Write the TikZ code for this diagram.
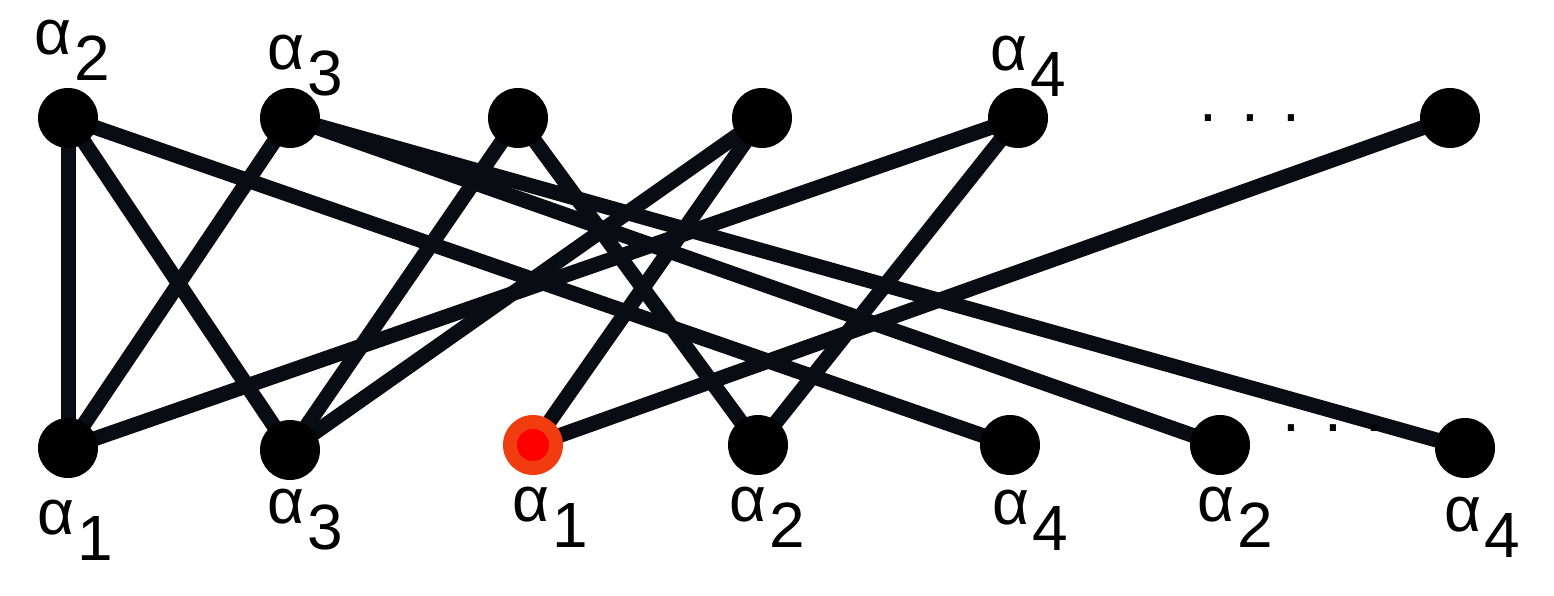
\documentclass[tikz,border=0pt]{standalone}
\usepackage{fontspec}
\setmainfont{Liberation Sans}
\usetikzlibrary{backgrounds}
\begin{document}
\begin{tikzpicture}[x=0.5pt,y=-0.5pt,
  vtx/.style={circle,fill=black,inner sep=0pt,minimum size=30pt},
  redv/.style={circle,fill={rgb,255:red,240;green,60;blue,15},inner sep=0pt,minimum size=30pt,
     path picture={\fill[red] (path picture bounding box.center) circle (8pt);}},
  edge/.style={line width=7.5pt,color={rgb,255:red,10;green,12;blue,20}},
  lbl/.style={font=\fontsize{32}{34}\selectfont,inner sep=0pt}]
\useasboundingbox (0,0) rectangle (1554,595);
\node[vtx] (t1) at (68,118) {};
\node[vtx] (t2) at (290,118) {};
\node[vtx] (t3) at (518,118) {};
\node[vtx] (t4) at (762,118) {};
\node[vtx] (t5) at (1018,118) {};
\node[vtx] (t6) at (1450,118) {};
\node[vtx] (b1) at (68,448) {};
\node[vtx] (b2) at (290,450) {};
\node[redv] (b3) at (533,445) {};
\node[vtx] (b4) at (758,445) {};
\node[vtx] (b5) at (1010,445) {};
\node[vtx] (b6) at (1220,445) {};
\node[vtx] (b7) at (1465,448) {};
\begin{scope}[on background layer]
\foreach \a/\b in {t1/b1,t1/b2,t1/b5,t2/b1,t2/b6,t2/b7,t3/b2,t3/b4,t4/b2,t4/b3,t5/b1,t5/b4,t6/b3}
  \draw[edge] (\a.center) -- (\b.center);
\end{scope}
\newcommand{\al}[1]{α\hspace{1.5pt}\raisebox{-13pt}{#1}}
\node[lbl] (l1) at (72,50) {\al{2}};
\node[lbl] (l2) at (305,66) {\al{3}};
\node[lbl] (l3) at (1028,66) {\al{4}};
\node[lbl] (l4) at (75,530) {\al{1}};
\node[lbl] (l5) at (305,520) {\al{3}};
\node[lbl] (l6) at (550,517) {\al{1}};
\node[lbl] (l7) at (767,517) {\al{2}};
\node[lbl] (l8) at (1030,520) {\al{4}};
\node[lbl] (l9) at (1235,517) {\al{2}};
\node[lbl] (l10) at (1482,527) {\al{4}};
\node[lbl] (d1) at (1250,118) {.\hspace{12pt}.\hspace{12pt}.};
\node[lbl] (d2) at (1333,428) {.\hspace{12pt}.\hspace{12pt}.};
\end{tikzpicture}
\end{document}
